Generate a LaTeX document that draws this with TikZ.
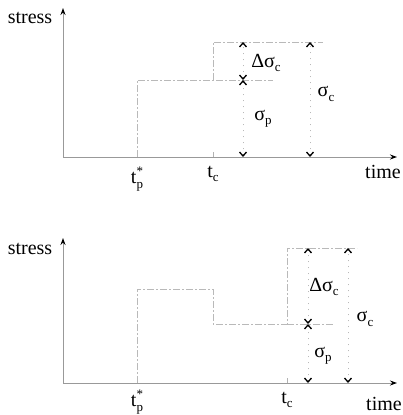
\documentclass[tikz,border=0pt]{standalone}
\usepackage{fontspec}
\setmainfont{Liberation Serif}
\usetikzlibrary{arrows.meta}
\newcommand\lsub[1]{\raisebox{-0.45ex}{\fontsize{13}{13}\selectfont #1}}
\newcommand\tpstar{t\rlap{\raisebox{0.85ex}{\fontsize{13}{13}\selectfont *}}\raisebox{-0.5ex}{\fontsize{13}{13}\selectfont p}}
\tikzset{
  lbl/.style={font=\fontsize{20}{22}\selectfont, inner sep=0pt},
  axis/.style={draw=gray!80, line width=1pt, -{Stealth[length=7pt,width=5pt,black]}},
  steps/.style={draw=gray!55, line width=0.9pt, dash pattern=on 7pt off 2pt on 2pt off 2pt},
  guide/.style={draw=gray!55, line width=0.8pt, dash pattern=on 1pt off 5pt},
  tick/.style={draw=gray!60, line width=0.8pt},
  dimtip/.tip={Straight Barb[length=4pt,width=7pt,line width=1.3pt,black]},
  dim/.style={guide, dimtip-dimtip}
}
\begin{document}
\begin{tikzpicture}[x=1pt,y=-1pt]
\useasboundingbox (0,0) rectangle (403,415);
% ---------- top plot ----------
\coordinate (O1) at (63,157);
\coordinate (Y1) at (63,8);
\coordinate (X1) at (397,157);
\coordinate (P1a) at (137,157);
\coordinate (P1b) at (137,80);
\coordinate (P1c) at (273,80);
\coordinate (C1a) at (213,80);
\coordinate (C1b) at (213,42);
\coordinate (C1c) at (323,42);
\coordinate (T1) at (213,152);
\coordinate (T1b) at (213,157);
\coordinate (D1t) at (243,42);
\coordinate (D1m) at (243,80);
\coordinate (D1b) at (243,157);
\coordinate (E1t) at (310,42);
\coordinate (E1b) at (310,157);
\draw[axis] (O1) -- (Y1);
\draw[axis] (O1) -- (X1);
\draw[steps] (P1a) -- (P1b) -- (P1c);
\draw[steps] (C1a) -- (C1b) -- (C1c);
\draw[tick] (T1) -- (T1b);
\draw[dim] (D1m) -- (D1t);
\draw[dim] (D1b) -- (D1m);
\draw[dim] (E1b) -- (E1t);
\node[lbl] (s1) at (30,18) {stress};
\node[lbl] (tm1) at (383,172) {time};
\node[lbl] (tp1) at (137,179) {\tpstar};
\node[lbl] (tc1) at (213,174) {t\lsub{c}};
\node[lbl] (ds1) at (266,63) {Δσ\lsub{c}};
\node[lbl] (sc1) at (326,94) {σ\lsub{c}};
\node[lbl] (sp1) at (263,119) {σ\lsub{p}};
% ---------- bottom plot ----------
\coordinate (O2) at (63,383);
\coordinate (Y2) at (63,238);
\coordinate (X2) at (397,383);
\coordinate (P2a) at (137,383);
\coordinate (P2b) at (137,289);
\coordinate (P2c) at (213,289);
\coordinate (P2d) at (213,324);
\coordinate (P2e) at (287,324);
\coordinate (P2f) at (287,248);
\coordinate (P2g) at (357,248);
\coordinate (P2h) at (333,324);
\coordinate (T2) at (287,378);
\coordinate (T2b) at (287,383);
\coordinate (D2t) at (308,248);
\coordinate (D2m) at (308,324);
\coordinate (D2b) at (308,383);
\coordinate (E2t) at (348,248);
\coordinate (E2b) at (348,383);
\draw[axis] (O2) -- (Y2);
\draw[axis] (O2) -- (X2);
\draw[steps] (P2a) -- (P2b) -- (P2c) -- (P2d) -- (P2e) -- (P2f) -- (P2g);
\draw[steps] (P2e) -- (P2h);
\draw[tick] (T2) -- (T2b);
\draw[dim] (D2m) -- (D2t);
\draw[dim] (D2b) -- (D2m);
\draw[dim] (E2b) -- (E2t);
\node[lbl] (s2) at (30,249) {stress};
\node[lbl] (tm2) at (384,404) {time};
\node[lbl] (tp2) at (137,402) {\tpstar};
\node[lbl] (tc2) at (287,400) {t\lsub{c}};
\node[lbl] (ds2) at (324,287) {Δσ\lsub{c}};
\node[lbl] (sc2) at (365,319) {σ\lsub{c}};
\node[lbl] (sp2) at (323,356) {σ\lsub{p}};
\end{tikzpicture}
\end{document}
